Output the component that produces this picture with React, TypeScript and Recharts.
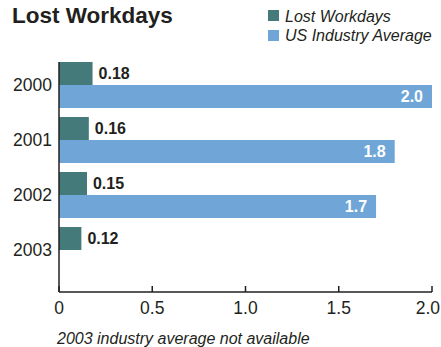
import React from 'react';
import { BarChart, Bar, XAxis, YAxis, LabelList } from 'recharts';

// values
const years = ['2000', '2001', '2002', '2003'];
const lostWorkdays = [0.18, 0.16, 0.15, 0.12];
const industryAverage: (number | null)[] = [2.0, 1.8, 1.7, null];
const xTicks = [0, 0.5, 1, 1.5, 2];

const TEAL = '#457a7a';
const BLUE = '#6fa6d7';
const INK = '#231f20';
const FONT = '"Liberation Sans", Arial, Helvetica, sans-serif';

const data = years.map((year, i) => ({
    year,
    lost: lostWorkdays[i],
    avg: industryAverage[i],
}));

const formatTick = (v: number) => (v === 0 ? '0' : v.toFixed(1));

// x tick, the last one is pulled in so it stays inside the page
const XTick = (props: any) => {
    const { x, y, payload } = props;
    const last = payload.value === xTicks[xTicks.length - 1];
    return (
        <text
            x={last ? x + 8 : x}
            y={y}
            dy="0.71em"
            textAnchor={last ? 'end' : 'middle'}
            fill={INK}
            fontSize={17.5}
            fontFamily={FONT}
        >
            {formatTick(payload.value)}
        </text>
    );
};

export default function App() {
    return (
        <div style={{ position: 'absolute', left: 0, top: 0, width: 441, height: 347, background: '#fff', fontFamily: FONT }}>
            <BarChart
                layout="vertical"
                width={441}
                height={347}
                data={data}
                margin={{ top: 62, right: 9, bottom: 15, left: 0 }}
                barCategoryGap={5}
                barGap={0}
            >
                <XAxis
                    type="number"
                    domain={[0, 2]}
                    ticks={xTicks}
                    height={40}
                    axisLine={{ stroke: INK, strokeWidth: 1.5 }}
                    tickLine={{ stroke: INK, strokeWidth: 1.5 }}
                    tickSize={-6}
                    tickMargin={16}
                    tick={<XTick />}
                    interval={0}
                />
                <YAxis
                    type="category"
                    dataKey="year"
                    width={59}
                    padding={{ top: -5, bottom: 15 }}
                    axisLine={{ stroke: INK, strokeWidth: 1.5 }}
                    tickLine={false}
                    tickSize={0}
                    tickMargin={7}
                    tick={{ fill: INK, fontSize: 17.5, fontFamily: FONT }}
                />
                <Bar dataKey="lost" fill={TEAL} isAnimationActive={false}>
                    <LabelList
                        dataKey="lost"
                        position="right"
                        offset={6}
                        formatter={(v: any) => Number(v).toFixed(2)}
                        style={{ fill: INK, fontSize: 16, fontWeight: 'bold', fontFamily: FONT }}
                    />
                </Bar>
                <Bar dataKey="avg" fill={BLUE} isAnimationActive={false}>
                    <LabelList
                        dataKey="avg"
                        position="insideRight"
                        offset={9}
                        formatter={(v: any) => (v == null ? '' : Number(v).toFixed(1))}
                        style={{ fill: '#ffffff', fontSize: 16, fontWeight: 'bold', fontFamily: FONT }}
                    />
                </Bar>
            </BarChart>

            {/* title, legend and footnote */}
            <svg width={441} height={347} style={{ position: 'absolute', left: 0, top: 0, pointerEvents: 'none' }}>
                <text x={12} y={23} fontSize={22.5} fontWeight="bold" fill={INK} fontFamily={FONT}>
                    Lost Workdays
                </text>
                <rect x={268} y={10} width={11} height={11} fill={TEAL} />
                <text x={285} y={22} fontSize={16} fontStyle="italic" fill={INK} fontFamily={FONT}>
                    Lost Workdays
                </text>
                <rect x={268} y={30} width={11} height={11} fill={BLUE} />
                <text x={285} y={41} fontSize={16} fontStyle="italic" fill={INK} fontFamily={FONT}>
                    US Industry Average
                </text>
                <text x={57} y={344} fontSize={16} fontStyle="italic" fill={INK} fontFamily={FONT}>
                    2003 industry average not available
                </text>
            </svg>
        </div>
    );
}
